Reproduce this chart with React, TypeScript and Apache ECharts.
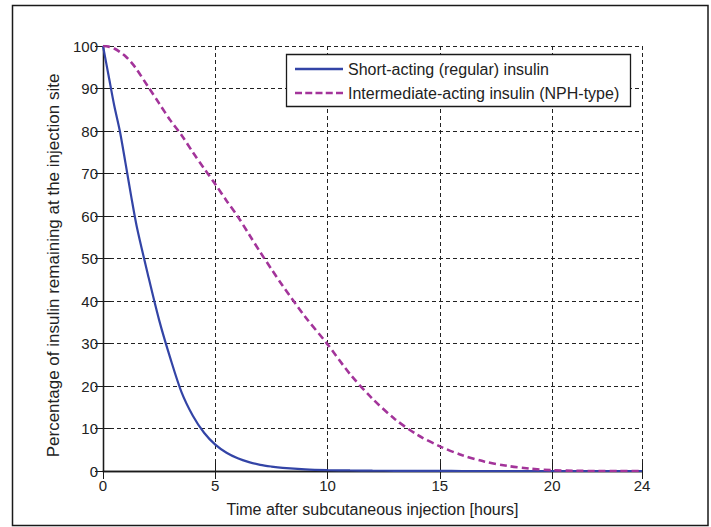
import React, { useEffect, useRef } from "react";
import * as echarts from "echarts";

const hours = [0, 0.25, 0.5, 0.75, 1, 1.25, 1.5, 2, 2.5, 3, 3.5, 4, 4.5, 5, 5.5, 6, 6.5, 7, 7.5, 8, 9, 10, 11, 12, 13, 14, 15, 16, 17, 18, 19, 20, 21, 22, 23, 24];
const shortActing = [100, 93, 86, 80, 72.5, 64.8, 57.6, 46.2, 35.5, 26.5, 18.5, 13, 9.0, 6.2, 4.3, 3.0, 2.1, 1.45, 1.05, 0.75, 0.4, 0.22, 0.13, 0.08, 0.05, 0.03, 0.02, 0, 0, 0, 0, 0, 0, 0, 0, 0];
const intermediateActing = [100, 99.85, 99.4, 98.6, 97.6, 96.2, 94.5, 90.5, 86.5, 82.5, 79, 75, 71.2, 67.5, 63.6, 59.9, 55.7, 51.5, 47.5, 43.6, 36.3, 29.8, 22.8, 17, 12.2, 8.5, 5.8, 3.7, 2.2, 1.2, 0.55, 0.2, 0.05, 0, 0, 0];
const seriesNames = ["Short-acting (regular) insulin", "Intermediate-acting insulin (NPH-type)"];
const xTitle = "Time after subcutaneous injection [hours]";
const yTitle = "Percentage of insulin remaining at the injection site";

const FONT = "'Liberation Sans', Arial, Helvetica, sans-serif";
const SOLID_ICON = "path://M0,0h48v2.4h-48z";
const DASH_ICON = "path://M0,0h7v2.6h-7z M10.25,0h7v2.6h-7z M20.5,0h7v2.6h-7z M30.75,0h7v2.6h-7z M41,0h7v2.6h-7z";

export default function App() {
  const ref = useRef<HTMLDivElement>(null);
  useEffect(() => {
    if (!ref.current) return;
    const chart = echarts.init(ref.current, null, { renderer: "svg" });
    const axisLine = { show: true, lineStyle: { color: "#1a1a1a", width: 1.3 } };
    const tick = { show: true, inside: true, length: 8, lineStyle: { color: "#1a1a1a", width: 1 } };
    const split = { show: true, lineStyle: { color: "#222", width: 1, type: [4, 3] as any } };
    chart.setOption({
      animation: false,
      backgroundColor: "#fff",
      grid: { left: 103, right: 69, top: 46, bottom: 56, containLabel: false, outerBoundsMode: "none" },
      xAxis: [
        {
          type: "value", min: 0, max: 24, interval: 5, position: "bottom",
          axisLine, axisTick: tick, splitLine: split,
          axisLabel: { color: "#222", fontSize: 15, fontFamily: FONT, margin: 7 },
          name: xTitle, nameLocation: "middle", nameGap: 30,
          nameTextStyle: { color: "#222", fontSize: 16, fontFamily: FONT },
        },
        {
          type: "value", min: 0, max: 24, interval: 5, position: "top",
          axisLine, axisTick: tick, splitLine: { show: false }, axisLabel: { show: false },
        },
      ],
      yAxis: [
        {
          type: "value", min: 0, max: 100, interval: 10, position: "left",
          axisLine, axisTick: tick, splitLine: split,
          axisLabel: { color: "#222", fontSize: 15, fontFamily: FONT, margin: 5 },
          name: yTitle, nameLocation: "middle", nameGap: 40, nameRotate: 90,
          nameTextStyle: { color: "#222", fontSize: 17, fontFamily: FONT, padding: [0, 14, 0, 0] },
        },
        {
          type: "value", min: 0, max: 100, interval: 10, position: "right",
          axisLine, axisTick: tick, splitLine: { show: false }, axisLabel: { show: false },
        },
      ],
      legend: {
        orient: "vertical", left: 295, top: 61, padding: 0,
        itemWidth: 48, itemHeight: 2.6, itemGap: 8,
        textStyle: { color: "#222", fontSize: 16, fontFamily: FONT, lineHeight: 16 },
        data: [
          { name: seriesNames[0], icon: SOLID_ICON },
          { name: seriesNames[1], icon: DASH_ICON },
        ],
        z: 5,
      },
      graphic: {
        elements: [
          { type: "rect", z: 4, shape: { x: 286.5, y: 54.5, width: 344, height: 52 }, style: { fill: "#fff", stroke: "#1a1a1a", lineWidth: 1.3 } },
          { type: "rect", z: 10, shape: { x: 12.5, y: 5.5, width: 695.5, height: 520 }, style: { fill: "none", stroke: "#1a1a1a", lineWidth: 1.5 } },
        ],
      },
      series: [
        {
          name: seriesNames[0], type: "line", showSymbol: false, symbol: "none", smooth: 0.3,
          data: hours.map((h, i) => [h, shortActing[i]]),
          lineStyle: { color: "#3344a6", width: 2.2 }, itemStyle: { color: "#3344a6" },
        },
        {
          name: seriesNames[1], type: "line", showSymbol: false, symbol: "none", smooth: 0.3,
          data: hours.map((h, i) => [h, intermediateActing[i]]),
          lineStyle: { color: "#a3349a", width: 2.6, type: [7, 4] }, itemStyle: { color: "#a3349a" },
        },
      ],
    });
    return () => chart.dispose();
  }, []);
  return <div ref={ref} style={{ position: "fixed", left: 0, top: 0, width: 711, height: 527 }} />;
}
